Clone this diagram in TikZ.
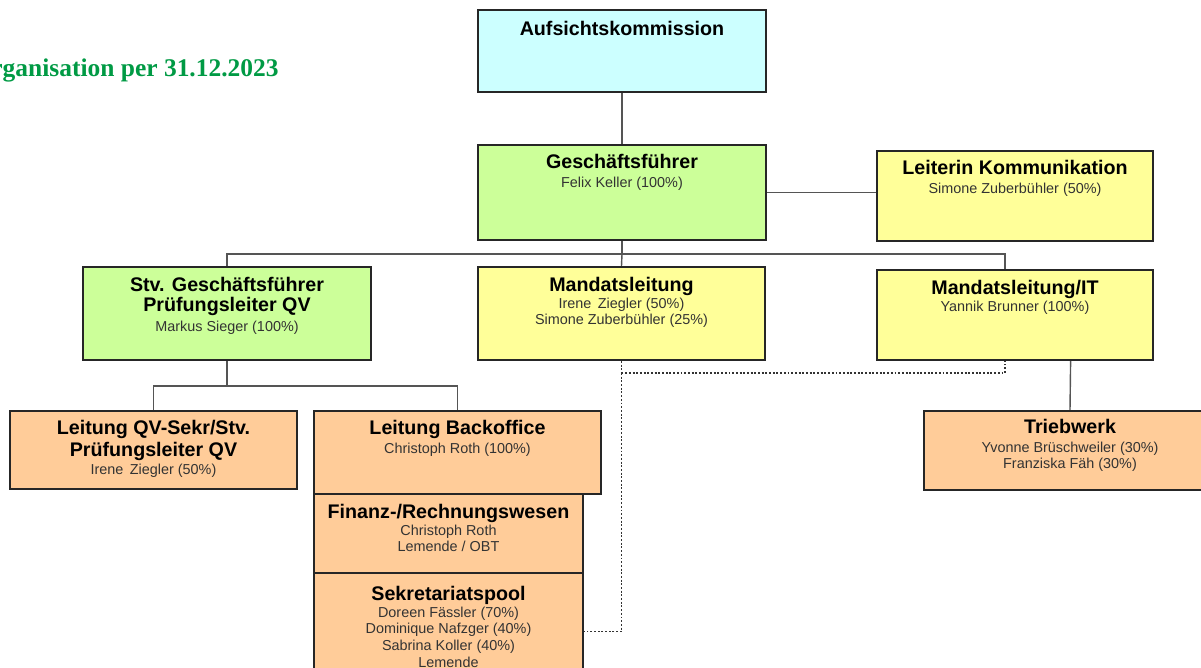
\documentclass[tikz,border=0pt]{standalone}
\usepackage{fontspec}
\setmainfont{Liberation Sans}
\newfontfamily\serifbold{Liberation Serif}
\usetikzlibrary{calc}

\definecolor{aufsichtcyan}{HTML}{CCFFFF}
\definecolor{leitgreen}{HTML}{CCFF99}
\definecolor{mandyellow}{HTML}{FFFF99}
\definecolor{teamorange}{HTML}{FFCC99}
\definecolor{boxline}{HTML}{262626}
\definecolor{linegray}{HTML}{555555}
\definecolor{subgray}{HTML}{333333}
\definecolor{titlegreen}{HTML}{009A44}

\newcommand{\ttl}[1]{{\fontsize{11.2}{12}\selectfont\bfseries\color{black}#1}}
\newcommand{\subfont}{\fontsize{8.2}{9.5}\selectfont}

\tikzstyle{orgbox} = [rectangle, draw=boxline, line width=1.2pt, inner sep=0pt]
\tikzstyle{orgtext} = [align=center, inner sep=0pt, anchor=north, font=\subfont, text=subgray]
\tikzstyle{connect} = [line width=0.8pt, draw=linegray]
\tikzstyle{dotline} = [line width=1.1pt, draw=subgray, densely dotted]

\begin{document}
\begin{tikzpicture}[x=0.02cm, y=-0.02cm]
		\useasboundingbox (0,0) rectangle (1201,668);
		\clip (0,0) rectangle (1201,668);

		\node (titel) [anchor=base east, inner sep=0pt, text=titlegreen, font=\serifbold\fontsize{14.5}{16}\selectfont\bfseries] at (279,77) {Organisation per 31.12.2023};

		% boxes
		\node (aufsicht) [orgbox, fill=aufsichtcyan, minimum width=5.76cm, minimum height=1.64cm] at (622,51) {};
		\node (gf) [orgbox, fill=leitgreen, minimum width=5.76cm, minimum height=1.9cm] at (622,192.5) {};
		\node (komm) [orgbox, fill=mandyellow, minimum width=5.52cm, minimum height=1.8cm] at (1015,196) {};
		\node (stv) [orgbox, fill=leitgreen, minimum width=5.76cm, minimum height=1.86cm] at (227,313.5) {};
		\node (mandat) [orgbox, fill=mandyellow, minimum width=5.74cm, minimum height=1.86cm] at (621.5,313.5) {};
		\node (mandatit) [orgbox, fill=mandyellow, minimum width=5.52cm, minimum height=1.8cm] at (1015,315) {};
		\node (qvsekr) [orgbox, fill=teamorange, minimum width=5.74cm, minimum height=1.56cm] at (153.5,450) {};
		\node (backoffice) [orgbox, fill=teamorange, minimum width=5.74cm, minimum height=1.66cm] at (457.5,452.5) {};
		\node (finanz) [orgbox, fill=teamorange, minimum width=5.38cm, minimum height=1.58cm] at (448.5,533.5) {};
		\node (sekrpool) [orgbox, fill=teamorange, minimum width=5.38cm, minimum height=2.34cm] at (448.5,631.5) {};
		\node (triebwerk) [orgbox, fill=teamorange, minimum width=5.84cm, minimum height=1.58cm] at (1070,450.5) {};

		% texts
		\node (aufsicht-t) [orgtext] at ([yshift=-0.24cm]aufsicht.north) {\ttl{Aufsichtskommission}};
		\node (gf-t) [orgtext] at ([yshift=-0.2cm]gf.north) {\ttl{Geschäftsführer}\\[1pt]Felix Keller (100\%)};
		\node (komm-t) [orgtext] at ([yshift=-0.2cm]komm.north) {\ttl{Leiterin Kommunikation}\\[1pt]Simone Zuberbühler (50\%)};
		\node (stv-t) [orgtext] at ([yshift=-0.22cm]stv.north) {\ttl{Stv. Geschäftsführer}\\[2pt]\ttl{Prüfungsleiter QV}\\[1.5pt]Markus Sieger (100\%)};
		\node (mandat-t) [orgtext] at ([yshift=-0.22cm]mandat.north) {\ttl{Mandatsleitung}\\Irene\, Ziegler (50\%)\\Simone Zuberbühler (25\%)};
		\node (mandatit-t) [orgtext] at ([yshift=-0.22cm]mandatit.north) {\ttl{Mandatsleitung/IT}\\Yannik Brunner (100\%)};
		\node (qvsekr-t) [orgtext] at ([yshift=-0.2cm]qvsekr.north) {\ttl{Leitung QV-Sekr/Stv.}\\[1pt]\ttl{Prüfungsleiter QV}\\[0.5pt]Irene\, Ziegler (50\%)};
		\node (backoffice-t) [orgtext] at ([yshift=-0.2cm]backoffice.north) {\ttl{Leitung Backoffice}\\[1pt]Christoph Roth (100\%)};
		\node (finanz-t) [orgtext] at ([yshift=-0.22cm]finanz.north) {\ttl{Finanz-/Rechnungswesen}\\Christoph Roth\\Lemende / OBT};
		\node (sekrpool-t) [orgtext] at ([yshift=-0.28cm]sekrpool.north) {\ttl{Sekretariatspool}\\Doreen Fässler (70\%)\\Dominique Nafzger (40\%)\\Sabrina Koller (40\%)\\Lemende};
		\node (triebwerk-t) [orgtext] at ([yshift=-0.18cm]triebwerk.north) {\ttl{Triebwerk}\\[1pt]Yvonne Brüschweiler (30\%)\\Franziska Fäh (30\%)};

		% lines
		\draw [connect] (aufsicht) -- (gf);
		\draw [connect] (gf.east) -- (komm.west |- gf.east);
		\draw [connect] (gf.south) -- ++(0,13) coordinate (bus);
		\draw [connect] (bus) -| (stv.north);
		\draw [connect] (bus) -- (mandat.north);
		\draw [connect] (bus) -| ($(mandatit.north west)!0.464!(mandatit.north east)$);
		\draw [connect] (stv.south) -- ++(0,25) coordinate (bus2);
		\draw [connect] (bus2) -| (qvsekr.north);
		\draw [connect] (bus2) -| (backoffice.north);
		\draw [connect] ($(mandatit.south west)!0.7!(mandatit.south east)$) -- (triebwerk.north);

		\draw [dotline] (mandat.south) -- ++(0,12) coordinate (dot);
		\draw [dotline] (dot) -| ($(mandatit.south west)!0.464!(mandatit.south east)$);
		\draw [dotline] (dot) |- (sekrpool.east);
\end{tikzpicture}
\end{document}
